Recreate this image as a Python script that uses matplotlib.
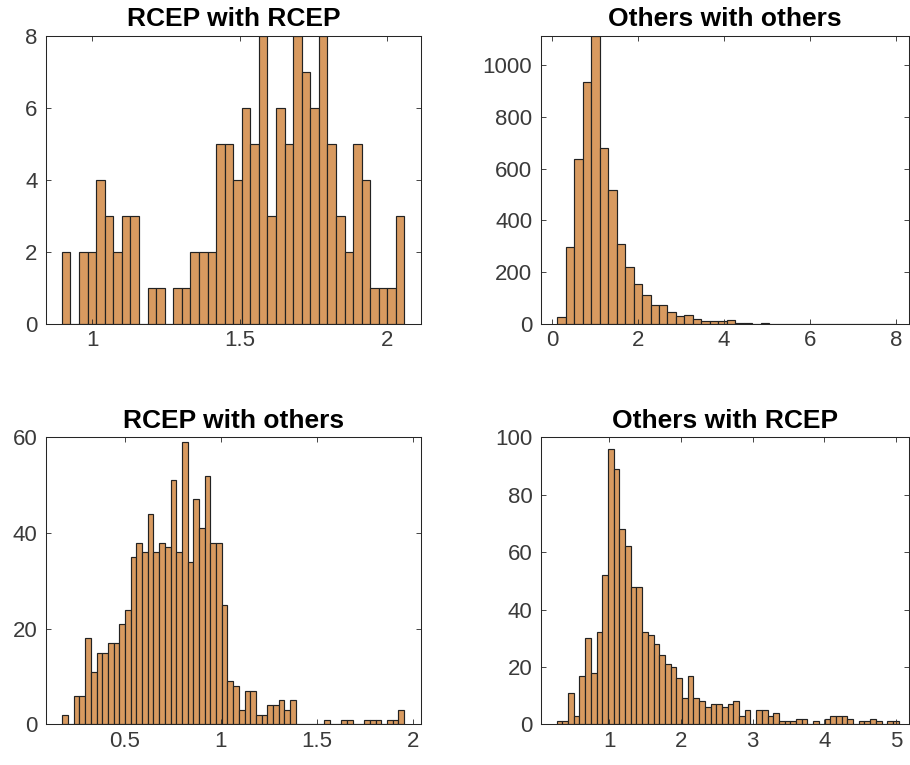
import numpy as np
import matplotlib
matplotlib.use("Agg")
import matplotlib.pyplot as plt
from matplotlib.ticker import FuncFormatter

plt.rcParams['font.family'] = ['Liberation Sans', 'DejaVu Sans']

# ---------------- data (bin counts) ----------------
titles = ["RCEP with RCEP", "Others with others", "RCEP with others", "Others with RCEP"]

rr_range = (0.897, 2.059)
rr_counts = [2, 0, 2, 2, 4, 3, 2, 3, 3, 0, 1, 1, 0, 1, 1, 2, 2, 2, 5, 5,
             4, 6, 5, 8, 3, 6, 5, 8, 7, 6, 8, 5, 3, 2, 5, 4, 1, 1, 1, 3]

oo_range = (0.124, 8.0)
oo_counts = [28, 296, 637, 933, 1112, 680, 516, 309, 221, 153, 113, 72, 73, 48, 31, 33, 18, 11, 11, 11,
             17, 3, 2, 1, 2, 0, 1, 1, 0, 1, 1, 0, 0, 1, 0, 0, 0, 0, 1, 1]

ro_range = (0.1753, 1.955)
ro_counts = [2, 0, 6, 6, 18, 11, 15, 15, 17, 17, 21, 24, 35, 38, 36, 44, 36, 38, 37, 51,
             36, 59, 34, 47, 41, 52, 38, 38, 25, 9, 8, 3, 7, 7, 2, 2, 4, 4, 5, 3,
             5, 0, 0, 0, 0, 0, 1, 0, 0, 1, 1, 0, 0, 1, 1, 1, 0, 1, 1, 3]

or_range = (0.266, 5.036)
or_counts = [1, 1, 11, 3, 17, 30, 18, 32, 52, 96, 89, 68, 62, 48, 48, 32, 31, 28, 24, 21,
             20, 16, 9, 17, 9, 8, 6, 7, 7, 6, 7, 8, 3, 5, 0, 5, 5, 3, 4, 1,
             1, 1, 2, 2, 0, 1, 0, 2, 3, 3, 3, 2, 0, 1, 1, 2, 1, 0, 1, 1]

xticks = [[1, 1.5, 2], [0, 2, 4, 6, 8], [0.5, 1, 1.5, 2], [1, 2, 3, 4, 5]]
yticks = [[0, 2, 4, 6, 8], [0, 200, 400, 600, 800, 1000], [0, 20, 40, 60], [0, 20, 40, 60, 80, 100]]
xlims = [(0.843, 2.115), (-0.263, 8.30), (0.09, 2.042), (0.043, 5.18)]
ylims = [(0, 8), (0, 1112), (0, 60), (0, 100)]

# ---------------- layout ----------------
W, H = 910, 765
fig = plt.figure(figsize=(W / 100, H / 100), dpi=100)

boxes_px = [(46, 36, 421, 324), (540.7, 36, 909, 324),
            (46, 437.3, 420.7, 724.3), (540.7, 437.3, 909, 724.3)]

datasets = [(rr_range, rr_counts), (oo_range, oo_counts),
            (ro_range, ro_counts), (or_range, or_counts)]

face = '#D89A60'
edge = '#222222'
tick_col = '#262626'

fmt = FuncFormatter(lambda v, p: '%g' % v)

for i, (l, t, r, b) in enumerate(boxes_px):
    ax = fig.add_axes([l / W, 1 - b / H, (r - l) / W, (b - t) / H])
    (lo, hi), counts = datasets[i]
    edges = np.linspace(lo, hi, len(counts) + 1)
    ax.bar(edges[:-1], counts, width=np.diff(edges), align='edge',
           color=face, edgecolor=edge, linewidth=0.85)
    ax.set_xlim(*xlims[i])
    ax.set_ylim(*ylims[i])
    ax.set_xticks(xticks[i])
    ax.set_yticks(yticks[i])
    ax.xaxis.set_major_formatter(fmt)
    ax.yaxis.set_major_formatter(fmt)
    ax.tick_params(direction='in', top=True, right=True, length=3.5, width=0.6,
                   color=tick_col, labelcolor='#3a3a3a', labelsize=16)
    ax.tick_params(axis='x', pad=4.5)
    ax.tick_params(axis='y', pad=6)
    for s in ax.spines.values():
        s.set_color(tick_col)
        s.set_linewidth(0.75)
    ax.set_title(titles[i], fontsize=19, fontweight='bold', color='black', pad=7)

fig.savefig('out.png', dpi=100)
